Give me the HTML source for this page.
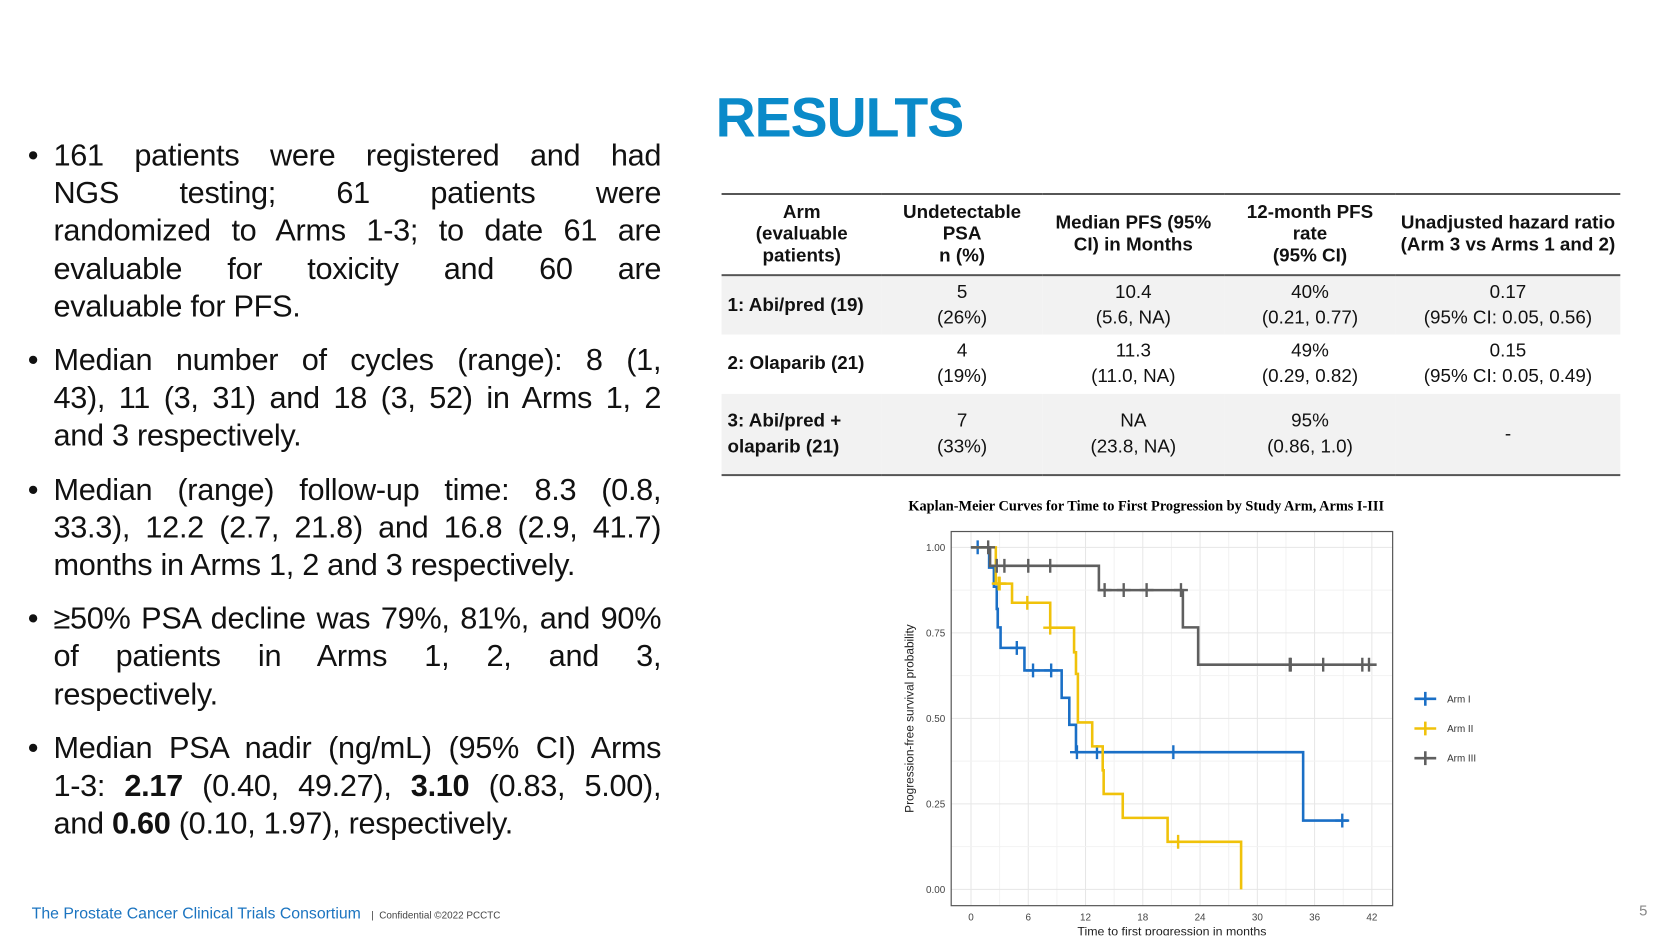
<!DOCTYPE html>
<html><head><meta charset="utf-8">
<style>
*{margin:0;padding:0;box-sizing:border-box}
body{width:1680px;height:945px;background:#fff;position:relative;overflow:hidden;font-family:"Liberation Sans Narrow","Liberation Sans",sans-serif;color:#111}
#wrap{position:absolute;left:0;top:0;width:1680px;height:945px;transform:scale(0.9898);transform-origin:0 0}
#bullets{position:absolute;left:28px;top:138px;width:640px;font-size:31px;line-height:38.2px}
.b{position:relative;padding-left:26px;margin-bottom:16px}
.b:before{content:"•";position:absolute;left:0;top:0}
.l{display:block;text-align:justify;text-align-last:justify;white-space:nowrap;letter-spacing:-0.3px}
.l.e{text-align-last:left}
#title{position:absolute;left:723px;top:86px;font-family:"Liberation Sans",sans-serif;font-weight:bold;font-size:56px;color:#0a8ac9;letter-spacing:-1px}
#tbl{position:absolute;left:729px;top:195px;border-collapse:collapse;font-size:19px}
#tbl th{font-weight:bold;height:82px;text-align:center;line-height:22px;border-top:2px solid #555;border-bottom:2px solid #555}
#tbl td{text-align:center;line-height:26px}
#tbl td.a{text-align:left;font-weight:bold;padding-left:6px}
#tbl tr.s td{background:#f2f2f2}
#tbl tr:last-child td{border-bottom:2px solid #555}
#footer{position:absolute;left:32px;top:915px;font-family:"Liberation Sans",sans-serif;font-size:16px;color:#1b74c0}
#footer span{color:#444;font-size:10px;margin-left:6px}
#pg{position:absolute;left:1656px;top:912px;font-size:15px;color:#888;font-family:"Liberation Sans",sans-serif}
svg{position:absolute;left:0;top:0}
</style></head><body>
<div id="wrap">
<div id="bullets">
<div class="b"><span class="l">161 patients were registered and had</span><span class="l">NGS testing; 61 patients were</span><span class="l">randomized to Arms 1-3; to date 61 are</span><span class="l">evaluable for toxicity and 60 are</span><span class="l e">evaluable for PFS.</span></div>
<div class="b"><span class="l">Median number of cycles (range): 8 (1,</span><span class="l">43), 11 (3, 31) and 18 (3, 52) in Arms 1, 2</span><span class="l e">and 3 respectively.</span></div>
<div class="b"><span class="l">Median (range) follow-up time: 8.3 (0.8,</span><span class="l">33.3), 12.2 (2.7, 21.8) and 16.8 (2.9, 41.7)</span><span class="l e">months in Arms 1, 2 and 3 respectively.</span></div>
<div class="b"><span class="l">≥50% PSA decline was 79%, 81%, and 90%</span><span class="l">of patients in Arms 1, 2, and 3,</span><span class="l e">respectively.</span></div>
<div class="b"><span class="l">Median PSA nadir (ng/mL) (95% CI) Arms</span><span class="l">1-3: <b>2.17</b> (0.40, 49.27), <b>3.10</b> (0.83, 5.00),</span><span class="l e">and <b>0.60</b> (0.10, 1.97), respectively.</span></div>
</div>
<div id="title">RESULTS</div>
<table id="tbl">
<tr><th style="width:162px">Arm<br>(evaluable<br>patients)</th><th style="width:162px">Undetectable<br>PSA<br>n (%)</th><th style="width:184px">Median PFS (95%<br>CI) in Months</th><th style="width:173px">12-month PFS<br>rate<br>(95% CI)</th><th style="width:227px">Unadjusted hazard ratio<br>(Arm 3 vs Arms 1 and 2)</th></tr>
<tr class="s" style="height:60px"><td class="a">1: Abi/pred (19)</td><td>5<br>(26%)</td><td>10.4<br>(5.6, NA)</td><td>40%<br>(0.21, 0.77)</td><td>0.17<br>(95% CI: 0.05, 0.56)</td></tr>
<tr style="height:60px"><td class="a">2: Olaparib (21)</td><td>4<br>(19%)</td><td>11.3<br>(11.0, NA)</td><td>49%<br>(0.29, 0.82)</td><td>0.15<br>(95% CI: 0.05, 0.49)</td></tr>
<tr class="s" style="height:82px"><td class="a">3: Abi/pred +<br>olaparib (21)</td><td>7<br>(33%)</td><td>NA<br>(23.8, NA)</td><td>95%<br>(0.86, 1.0)</td><td>-</td></tr>
</table>
<svg id="km" width="1680" height="945"></svg>
<div id="footer">The Prostate Cancer Clinical Trials Consortium <span>|&nbsp; Confidential ©2022 PCCTC</span></div>
<div id="pg">5</div>
</div>
<script>
const xTicks=[0,6,12,18,24,30,36,42];
const yTicks=[0,0.25,0.5,0.75,1.0];
const yTickLabels=["0.00","0.25","0.50","0.75","1.00"];
const armNames=["Arm I","Arm II","Arm III"];
const arm1Times=[1.9,2.4,2.7,2.8,3.1,5.6,9.5,10.3,11.0,34.8];
const arm1Surv=[0.941,0.885,0.82,0.766,0.706,0.64,0.56,0.481,0.401,0.201];
const arm1Censor=[0.7,4.8,6.5,8.4,11.1,13.2,21.2,38.9];
const arm1End=39.5;
const arm2Times=[2.6,4.3,8.3,10.8,11.0,11.2,12.7,13.8,13.9,15.9,20.6,28.3];
const arm2Surv=[0.894,0.838,0.765,0.693,0.63,0.488,0.418,0.348,0.279,0.209,0.139,0];
const arm2Censor=[2.9,3.0,5.9,8.3,21.7];
const arm2End=28.3;
const arm3Times=[2.0,13.4,22.2,23.8];
const arm3Surv=[0.946,0.875,0.766,0.657];
const arm3Censor=[1.8,2.7,3.5,6.0,8.3,14.0,16.0,18.4,22.0,33.4,33.5,36.9,41.0,41.7];
const arm3End=42.5;
const colors=["#1a6fc6","#f0c20a","#5f5f5f"];
const NS="http://www.w3.org/2000/svg";
const svg=document.getElementById('km');
const P={l:961,r:1407,t:537,b:915};
const xs=v=>981+v*(1386-981)/42;
const ys=v=>898.5-v*(898.5-553);
function mk(t,a,p){const e=document.createElementNS(NS,t);for(const k in a)e.setAttribute(k,a[k]);(p||svg).appendChild(e);return e;}
const t=mk('text',{x:1158,y:516,'text-anchor':'middle','font-family':'Liberation Serif,serif','font-weight':'bold','font-size':'14.5'});
t.textContent='Kaplan-Meier Curves for Time to First Progression by Study Arm, Arms I-III';


const panel=mk('rect',{x:P.l,y:P.t,width:P.r-P.l,height:P.b-P.t,fill:'#fff'});


for(let i=0;i<xTicks.length;i++){
  const g=mk('line',{x1:xs(xTicks[i]),x2:xs(xTicks[i]),y1:P.t,y2:P.b,stroke:'#e6e6e6','stroke-width':1});
  
  
  if(i<xTicks.length-1){const m=mk('line',{x1:xs(xTicks[i]+3),x2:xs(xTicks[i]+3),y1:P.t,y2:P.b,stroke:'#f2f2f2','stroke-width':1});
  
  }
  const lb=mk('text',{x:xs(xTicks[i]),y:930,'text-anchor':'middle','font-family':'Liberation Sans,sans-serif','font-size':'10',fill:'#444'});
  lb.textContent=xTicks[i];
  
  
}
for(let i=0;i<yTicks.length;i++){
  const g=mk('line',{x1:P.l,x2:P.r,y1:ys(yTicks[i]),y2:ys(yTicks[i]),stroke:'#e6e6e6','stroke-width':1});
  
  
  if(i<yTicks.length-1){const m=mk('line',{x1:P.l,x2:P.r,y1:ys(yTicks[i]+0.125),y2:ys(yTicks[i]+0.125),stroke:'#f2f2f2','stroke-width':1});
  
  }
  const lb=mk('text',{x:955,y:ys(yTicks[i])+3.5,'text-anchor':'end','font-family':'Liberation Sans,sans-serif','font-size':'10',fill:'#444'});
  lb.textContent=yTickLabels[i];
  
  
}
const bd=mk('rect',{x:P.l,y:P.t,width:P.r-P.l,height:P.b-P.t,fill:'none',stroke:'#555','stroke-width':1.2});


const xt=mk('text',{x:1184,y:945,'text-anchor':'middle','font-family':'Liberation Sans,sans-serif','font-size':'12.5',fill:'#222'});
xt.textContent='Time to first progression in months';


const yt=mk('text',{x:0,y:0,'text-anchor':'middle','font-family':'Liberation Sans,sans-serif','font-size':'12',fill:'#222',transform:'translate(923,726) rotate(-90)'});
yt.textContent='Progression-free survival probability';


function survAt(times,surv,x){let s=1;for(let i=0;i<times.length;i++){if(times[i]<=x)s=surv[i];}return s;}
const arms=[[arm1Times,arm1Surv,arm1Censor,arm1End],[arm2Times,arm2Surv,arm2Censor,arm2End],[arm3Times,arm3Surv,arm3Censor,arm3End]];
arms.forEach((a,k)=>{
  const [tm,sv,cs,end]=a;
  let d='M'+xs(0)+','+ys(1);let s=1;
  for(let i=0;i<tm.length;i++){d+='H'+xs(tm[i])+'V'+ys(sv[i]);s=sv[i];}
  if(s>0)d+='H'+xs(end);
  const p=mk('path',{d:d,fill:'none',stroke:colors[k],'stroke-width':2.6});
  
  
  cs.forEach(c=>{const y=ys(survAt(tm,sv,c)),x=xs(c);
    const m=mk('path',{d:`M${x-7},${y}H${x+7}M${x},${y-7}V${y+7}`,stroke:colors[k],'stroke-width':2.4});
    
    });
  const ly=706+k*30,lx=1440;
  const lm=mk('path',{d:`M${lx-11},${ly}H${lx+11}M${lx},${ly-7}V${ly+7}`,stroke:colors[k],'stroke-width':2.6});
  
  
  const lt=mk('text',{x:1462,y:ly+3.5,'font-family':'Liberation Sans,sans-serif','font-size':'10',fill:'#333'});
  lt.textContent=armNames[k];
  
  
});
</script>
</body></html>
